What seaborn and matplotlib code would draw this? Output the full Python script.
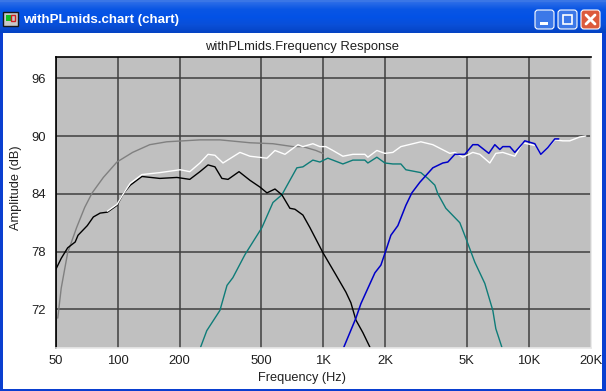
import numpy as np
import matplotlib
matplotlib.use("Agg")
import matplotlib.pyplot as plt
from matplotlib.colors import LinearSegmentedColormap
from matplotlib.patches import Rectangle, FancyBboxPatch
import seaborn as sns

# Frequency (Hz) and amplitude (dB)
black_f = [50,53,57,62,64,71,76,82,89,99,107,115,131,160,194,224,251,275,297,321,344,389,440,492,532,582,629,688,728,796,861,996,1152,1289,1363,1442,1559,1686]
black_db = [76.2,77.3,78.4,79.0,79.7,80.7,81.6,82.0,82.1,82.8,84.1,84.9,85.8,85.6,85.7,85.5,86.3,87.0,86.8,85.6,85.5,86.3,85.4,84.7,84.1,84.5,83.9,82.5,82.4,81.8,80.5,77.9,75.6,73.8,72.7,70.9,69.6,68.1]
gray_f = [51,53,57,63,69,75,85,99,118,143,173,251,314,440,569,712,796,921,996]
gray_db = [71.1,74.2,77.9,80.5,82.6,84.1,85.7,87.3,88.3,89.1,89.4,89.6,89.6,89.3,89.2,88.9,88.9,88.5,88.2]
white_f = [89,99,107,115,131,160,201,224,251,275,297,325,393,440,532,582,651,753,796,890,963,1030,1114,1246,1394,1594,1649,1824,1995,2182,2387,2986,3416,4133,4371,4781,5348,5784,6470,6920,7484,8561,9364,10833,11457,12392,13403,14660,15856,17736,18969]
white_db = [82.2,82.9,84.1,85.1,86.0,86.2,86.5,86.3,87.2,88.1,88.0,87.2,88.3,87.9,87.7,88.5,88.1,89.1,88.9,89.2,88.9,88.9,88.5,87.9,88.1,88.1,87.8,88.5,88.2,88.3,88.9,89.4,89.1,88.2,88.3,87.8,88.3,88.1,87.2,88.2,88.3,87.9,89.3,89.0,88.1,88.8,89.6,89.5,89.5,89.9,90.0]
blue_f = [1260,1348,1442,1525,1784,1908,2017,2134,2308,2524,2700,2953,3416,3821,4041,4371,4889,5348,5656,6398,6843,7237,7484,8095,8561,9577,10712,11457,12392,13403,14017]
blue_db = [68.1,69.6,71.1,72.6,75.8,76.6,78.1,79.7,80.7,82.8,84.1,85.2,86.7,87.2,87.3,88.1,88.1,89.1,89.1,88.2,89.1,88.6,88.9,88.9,88.3,89.5,89.2,88.1,88.8,89.7,89.7]
teal_f = [253,271,314,340,363,416,503,569,629,688,744,796,890,963,1053,1246,1394,1594,1649,1824,1995,2182,2387,2524,2986,3230,3493,3613,3952,4623,4944,5469,6117,6691,6920,7401]
teal_db = [68.1,69.8,71.9,74.5,75.3,77.7,80.5,83.1,83.9,85.4,86.7,86.8,87.5,87.3,87.7,87.1,87.5,87.5,87.2,87.8,87.2,87.1,87.1,86.5,86.2,85.6,84.9,84.0,82.5,81.0,79.4,76.9,74.7,71.9,70.0,68.1]

x_ticks = [50,100,200,500,1000,2000,5000,10000,20000]
x_labels = ["50","100","200","500","1K","2K","5K","10K","20K"]
y_ticks = [72,78,84,90,96]

sns.set_theme(style="white")
plt.rcParams['font.family'] = ['Liberation Sans', 'DejaVu Sans']

W, H = 606, 391
fig = plt.figure(figsize=(6.06, 3.91), dpi=100, facecolor="white")

# window frame, in pixels
bg = fig.add_axes([0, 0, 1, 1])
bg.axis("off")
title_cmap = LinearSegmentedColormap.from_list("t", ["#2F6FE8", "#0A56E4", "#0352E6", "#0A4FD8", "#0443C4"])
bg.imshow(np.linspace(0, 1, 32)[:, None], extent=(0, W, 33, 1), aspect="auto", cmap=title_cmap)
bg.set_xlim(0, W)
bg.set_ylim(H, 0)
bg.add_patch(Rectangle((0, 33), W, H-33, fc="#0A3FD0", ec="none"))
bg.add_patch(Rectangle((3, 33), 599, 356, fc="white", ec="none"))
bg.add_patch(Rectangle((0, 0), W, 2, fc="#3A76E6", ec="none"))
bg.add_patch(Rectangle((3, 12), 15, 14, fc="#C8C8C8", ec="#181818", lw=1))
bg.add_patch(Rectangle((6, 15), 5, 6, fc="#10C020", ec="none"))
bg.add_patch(Rectangle((11, 15), 4, 6, fc="none", ec="#D02020", lw=1))
for x0, c in [(535, "#3C78E8"), (558, "#3C78E8"), (581, "#DC5A3C")]:
    bg.add_patch(FancyBboxPatch((x0, 10), 19, 19, boxstyle="round,pad=0,rounding_size=3", fc=c, ec="white", lw=0.8))
bg.add_patch(Rectangle((540, 22), 8, 3, fc="white", ec="none"))
bg.add_patch(Rectangle((563, 15), 9, 9, fc="none", ec="white", lw=1.2))
bg.plot([586, 595], [15, 24], color="white", lw=2)
bg.plot([595, 586], [15, 24], color="white", lw=2)
bg.text(23, 20.5, "withPLmids.chart (chart)", color="white", fontweight="bold", fontsize=9.6, va="center", family="Liberation Sans")

ax = fig.add_axes([56/W, 1-348/H, 534.5/W, 291/H], facecolor="#C0C0C0")
ax.set_axisbelow(True)
series = [(gray_f, gray_db, "#808080", 1), (teal_f, teal_db, "#0E7C78", 1), (black_f, black_db, "black", 1),
          (white_f, white_db, "white", 1), (blue_f, blue_db, "#0000C8", 1.1)]
for f, db, c, lw in series:
    sns.lineplot(x=f, y=db, ax=ax, color=c, lw=lw, sort=False, estimator=None, errorbar=None)

ax.set_xscale("log")
ax.set_xlim(50, 20000)
ax.set_ylim(68, 98.2)
ax.set_xticks(x_ticks)
ax.set_xticks([], minor=True)
ax.set_xticklabels(x_labels, fontsize=9.4, color="#202020")
ax.set_yticks(y_ticks)
ax.set_yticklabels([str(v) for v in y_ticks], fontsize=9.4, color="#202020")
ax.tick_params(axis="x", length=0, pad=5)
ax.tick_params(axis="y", length=0, pad=7)
ax.grid(color="#404040", lw=1.1)
for s, c in [("left", "black"), ("top", "black"), ("right", "#E8E8E8"), ("bottom", "#E8E8E8")]:
    ax.spines[s].set_color(c)
    ax.spines[s].set_linewidth(1.2)

ax.set_title("withPLmids.Frequency Response", fontsize=9.4, color="#202020", x=(302-56)/534.5, pad=5)
ax.set_xlabel("Frequency (Hz)", fontsize=9.2, color="#202020")
ax.xaxis.set_label_coords((301.5-56)/534.5, -0.082)
ax.set_ylabel("Amplitude (dB)", fontsize=9.2, color="#202020")
ax.yaxis.set_label_coords(-0.063, (348-187.5)/291)

fig.savefig("out.png", dpi=100)
